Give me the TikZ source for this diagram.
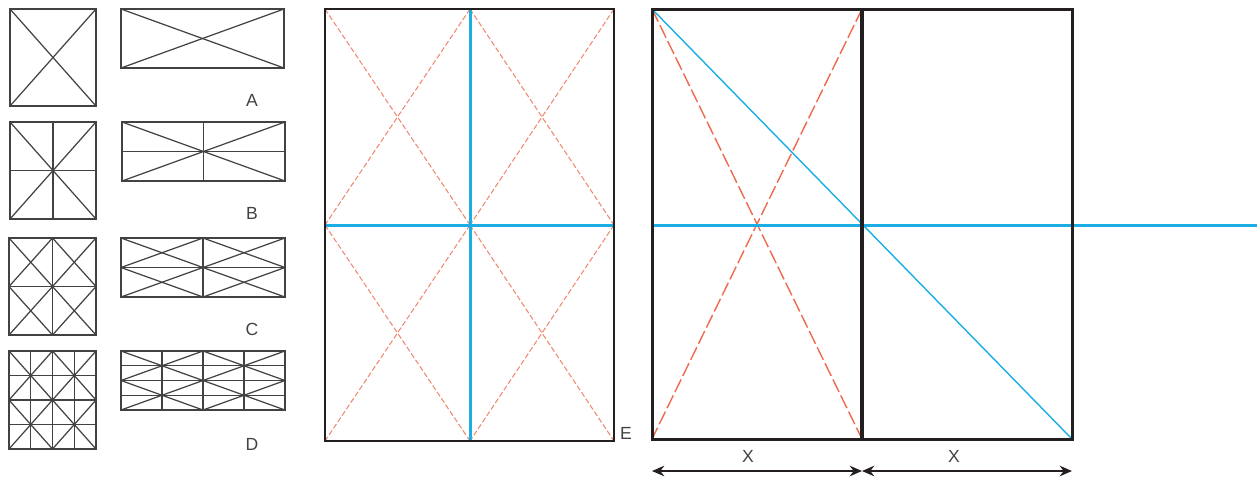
\documentclass[tikz,border=0pt]{standalone}
\usepackage{xcolor}
\usepackage{fontspec}
\setmainfont{Liberation Sans}
\usepackage{tikz}
\usetikzlibrary{arrows.meta, positioning, calc}
\definecolor{kink}{HTML}{231F20}
\definecolor{kcyan}{HTML}{1AAEE5}
\definecolor{kred}{HTML}{EE6A4D}
\tikzset{
  thinline/.style={kink!85, line width=0.7pt},
  frameline/.style={kink, line width=1.1pt},
  heavyline/.style={kink, line width=1.7pt},
  bluethick/.style={kcyan, line width=1.7pt},
  bluethin/.style={kcyan, line width=0.8pt},
  reddash/.style={kred!80, line width=0.6pt, dash pattern=on 3pt off 1.4pt},
  redlong/.style={kred, line width=0.8pt, dash pattern=on 8pt off 2.2pt},
  dimarrow/.style={kink, line width=0.8pt, {Stealth[length=7pt,width=6pt]}-{Stealth[length=7pt,width=6pt]}},
  letter/.style={font=\fontsize{10}{12}\selectfont, text=kink!85, inner sep=0pt}
}
%% box with n cells per side and k crossed blocks per side
\newcommand{\crossbox}[6]{%
  \draw[thinline] (#1,#2) rectangle (#3,#4);
  \foreach \i in {1,...,#5} {
    \draw[thinline] ({#1+(#3-#1)*\i/#5},#2) -- ({#1+(#3-#1)*\i/#5},#4);
    \draw[thinline] (#1,{#2+(#4-#2)*\i/#5}) -- (#3,{#2+(#4-#2)*\i/#5});
  }
  \foreach \i in {1,...,#6} {
    \foreach \j in {1,...,#6} {
      \draw[thinline] ({#1+(#3-#1)*(\i-1)/#6},{#2+(#4-#2)*(\j-1)/#6})
        -- ({#1+(#3-#1)*\i/#6},{#2+(#4-#2)*\j/#6});
      \draw[thinline] ({#1+(#3-#1)*\i/#6},{#2+(#4-#2)*(\j-1)/#6})
        -- ({#1+(#3-#1)*(\i-1)/#6},{#2+(#4-#2)*\j/#6});
    }
  }
}
%% crossed quadrant, dashed
\newcommand{\dashcross}[4]{%
  \draw[reddash] (#1,#2) -- (#3,#4);
  \draw[reddash] (#3,#2) -- (#1,#4);
}

\begin{document}
\begin{tikzpicture}[x=0.02cm, y=-0.02cm]

  \useasboundingbox (0,0) rectangle (1257,478);

  %% A
  \crossbox{10}{9}{96}{106}{1}{1}
  \crossbox{121}{9}{284}{68}{1}{1}
  \node[letter] (labA) at (252,100) {A};

  %% B
  \crossbox{10}{122}{96}{219}{2}{1}
  \crossbox{122}{122}{285}{181}{2}{1}
  \node[letter] (labB) at (252,213) {B};

  %% C
  \crossbox{9}{238}{96}{335}{2}{2}
  \crossbox{121}{238}{285}{297}{2}{2}
  \node[letter] (labC) at (252,329) {C};

  %% D
  \crossbox{9}{351}{96}{449}{4}{2}
  \crossbox{121}{351}{285}{410}{4}{2}
  \node[letter] (labD) at (252,444) {D};

  %% E: half sheet
  \dashcross{325}{9}{470}{225}
  \dashcross{470}{9}{614}{225}
  \dashcross{325}{225}{470}{441}
  \dashcross{470}{225}{614}{441}
  \draw[bluethick] (470,9) -- (470,441);
  \draw[bluethick] (325,225) -- (614,225);
  \draw[frameline] (325,9) rectangle (614,441);
  \node[letter] (labE) at (626,433) {E};

  %% double sheet
  \draw[redlong] (652,9) -- (862,439);
  \draw[redlong] (862,9) -- (652,439);
  \draw[bluethin] (652,9) -- (1072,439);
  \draw[bluethick] (652,225) -- (1257,225);
  \draw[heavyline] (652,9) rectangle (1072,439);
  \draw[kink, line width=2.8pt] (862,9) -- (862,439);

  %% widths
  \coordinate (wl) at (652,471);
  \coordinate (wm) at (862,471);
  \coordinate (wr) at (1072,471);
  \draw[dimarrow] (wl) -- (wm);
  \draw[dimarrow] (wm) -- (wr);
  \node[letter] (labXl) at (748,456) {X};
  \node[letter] (labXr) at (954,456) {X};

\end{tikzpicture}
\end{document}
